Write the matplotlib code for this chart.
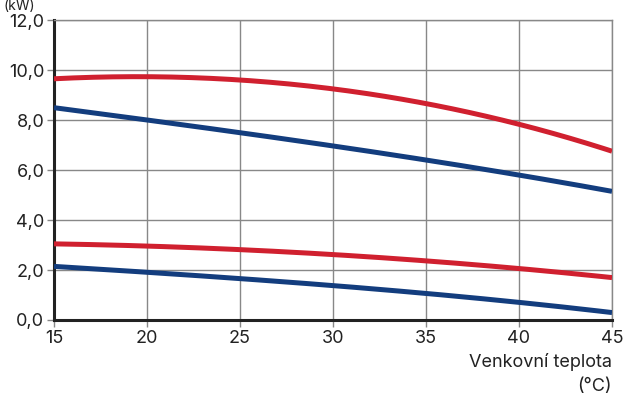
import matplotlib.pyplot as plt
import numpy as np

plt.rcParams['font.family'] = ['Inter', 'DejaVu Sans']

# Outdoor temperature (°C)
temps = [15, 20, 25, 30, 35, 40, 45]

# Curves (kW)
red_upper = [9.65, 9.75, 9.6, 9.25, 8.65, 7.85, 6.75]
blue_upper = [8.5, 8.0, 7.5, 6.97, 6.4, 5.8, 5.15]
red_lower = [3.05, 2.95, 2.82, 2.62, 2.37, 2.05, 1.7]
blue_lower = [2.15, 1.9, 1.65, 1.4, 1.05, 0.7, 0.3]

y_ticks = [0, 2, 4, 6, 8, 10, 12]
y_labels = ["0,0", "2,0", "4,0", "6,0", "8,0", "10,0", "12,0"]

red = "#d0202f"
blue = "#133d7e"

fig = plt.figure(figsize=(6.25, 3.96), dpi=100)
ax = fig.add_axes([0.0864, 0.192, 0.8928, 0.757])

x_fine = np.linspace(15, 45, 200)
for vals, col in [(red_upper, red), (blue_upper, blue), (red_lower, red), (blue_lower, blue)]:
    coef = np.polyfit(temps, vals, 3)
    ax.plot(x_fine, np.polyval(coef, x_fine), color=col, lw=3.6, solid_capstyle="butt", zorder=3)

ax.set_xlim(15, 45)
ax.set_ylim(0, 12)
ax.set_xticks(temps)
ax.set_yticks(y_ticks)
ax.set_yticklabels(y_labels)
ax.grid(True, color="#888888", lw=1.0)
ax.set_axisbelow(True)

for s in ["top", "right"]:
    ax.spines[s].set_color("#888888")
    ax.spines[s].set_linewidth(1.0)
for s in ["left", "bottom"]:
    ax.spines[s].set_color("#222222")
    ax.spines[s].set_linewidth(2.2)

ax.tick_params(axis="both", labelsize=13, length=5, width=1, colors="#222222", pad=2)
ax.tick_params(axis="both", color="#888888")

fig.text(0.979, 0.055, "Venkovní teplota\n(°C)", ha="right", va="center", fontsize=13,
         color="#222222", linespacing=1.5, multialignment="right")
fig.text(0.005, 0.985, "(kW)", ha="left", va="center", fontsize=10, color="#222222")

fig.savefig("out.png", dpi=100)
